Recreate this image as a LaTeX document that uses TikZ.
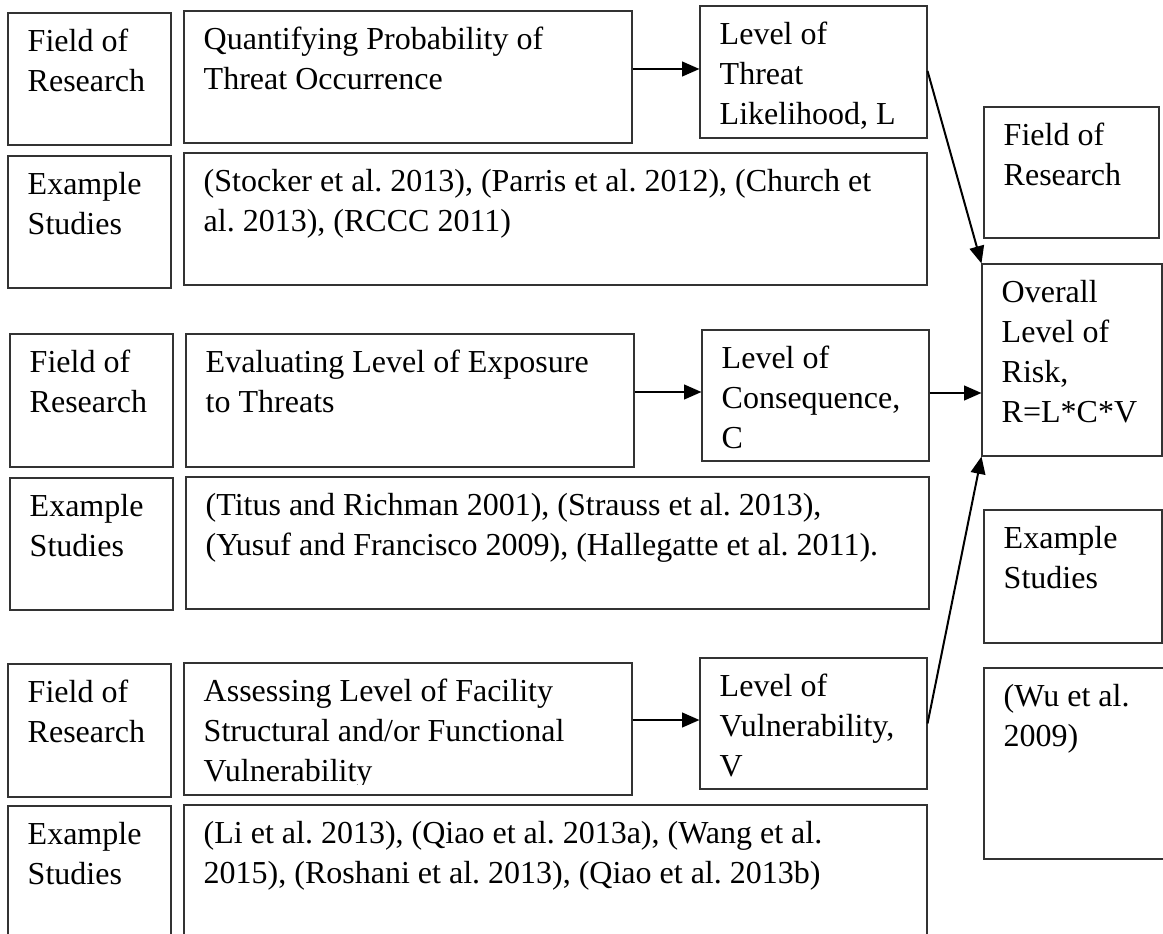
\documentclass[tikz,border=0pt]{standalone}
\usepackage{fontspec}
\setmainfont{Liberation Serif}
\usetikzlibrary{arrows.meta,fit,calc}
\frenchspacing
\tikzset{
  box/.style={draw=black!80, line width=0.8pt, inner sep=0pt},
  txt/.style={anchor=base west, inner sep=0pt, font=\fontsize{24}{30}\selectfont\frenchspacing},
  arr/.style={draw=black, line width=1.5pt, -{Triangle[length=13pt,width=11pt]}},
}
\newcommand\boxat[6]{%
  \node[box, fit={(#2,#3) (#4,#5)}] (#1) {};
  \node[txt] (#1t) at ([shift={(20,39)}]#1.north west) {\begin{tabular}[t]{@{}l@{}}#6\end{tabular}};
}
\begin{document}
\begin{tikzpicture}[x=0.75pt,y=-0.75pt]
\clip (0,0) rectangle (1163,934);
% row 1
\boxat{fr1}{8}{13}{171}{145}{Field of\\Research}
\boxat{q}{184}{11}{632}{143}{Quantifying Probability of\\Threat Occurrence}
\boxat{l}{700}{6}{927}{138}{Level of\\Threat\\Likelihood, L}
\boxat{e1}{8}{156}{171}{288}{Example\\Studies}
\boxat{e1s}{184}{153}{927}{285}{(Stocker et al. 2013), (Parris et al. 2012), (Church et\\al. 2013), (RCCC 2011)}
% row 2
\boxat{fr2}{10}{334}{173}{467}{Field of\\Research}
\boxat{ev}{186}{334}{634}{467}{Evaluating Level of Exposure\\to Threats}
\boxat{c}{702}{330}{929}{461}{Level of\\Consequence,\\C}
\boxat{e2}{10}{478}{173}{610}{Example\\Studies}
\boxat{e2s}{186}{477}{929}{609}{(Titus and Richman 2001), (Strauss et al. 2013),\\(Yusuf and Francisco 2009), (Hallegatte et al. 2011).}
% row 3
\boxat{fr3}{8}{664}{171}{797}{Field of\\Research}
\node[box, fit={(184,663) (632,795)}] (as) {};
\begin{scope}
\clip (184,663) rectangle (632,784);
\node[txt] (ast) at ([shift={(20,39)}]as.north west) {\begin{tabular}[t]{@{}l@{}}Assessing Level of Facility\\Structural and/or Functional\\Vulnerability\end{tabular}};
\end{scope}
\boxat{v}{700}{658}{927}{789}{Level of\\Vulnerability,\\V}
\boxat{e3}{8}{806}{171}{960}{Example\\Studies}
\boxat{e3s}{184}{805}{927}{960}{(Li et al. 2013), (Qiao et al. 2013a), (Wang et al.\\2015), (Roshani et al. 2013), (Qiao et al. 2013b)}
% right column
\boxat{rf}{984}{107}{1159}{238}{Field of\\Research}
\boxat{o}{982}{264}{1162}{456}{Overall\\Level of\\Risk,\\R=L*C*V}
\boxat{re}{984}{510}{1162}{643}{Example\\Studies}
\boxat{w}{984}{668}{1175}{859}{(Wu et al.\\2009)}
% arrows
\draw[arr] (q.east |- 0,69) -- (l.west |- 0,69);
\draw[arr] (ev.east |- 0,392) -- (c.west |- 0,392);
\draw[arr] (as.east |- 0,720) -- (v.west |- 0,720);
\draw[arr] (l.east |- 0,71) -- (o.north west);
\draw[arr] (c.east |- 0,393) -- (o.west |- 0,393);
\draw[arr] (v.east) -- (o.south west);
\end{tikzpicture}
\end{document}
